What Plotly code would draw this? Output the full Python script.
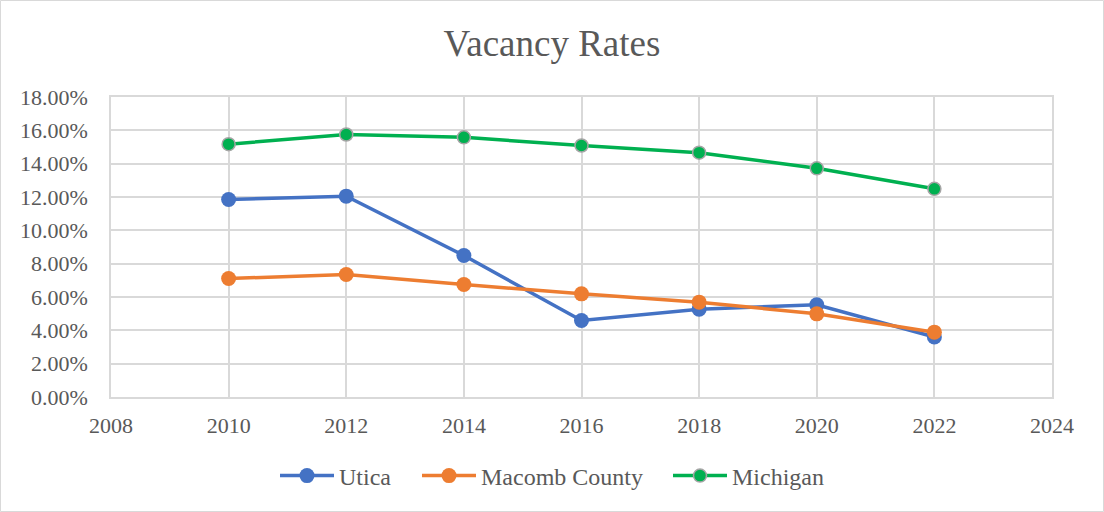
import plotly.graph_objects as go

years = [2010, 2012, 2014, 2016, 2018, 2020, 2022]
utica = [11.85, 12.05, 8.49, 4.59, 5.27, 5.53, 3.60]
macomb = [7.11, 7.35, 6.75, 6.19, 5.69, 4.99, 3.89]
michigan = [15.17, 15.75, 15.58, 15.09, 14.66, 13.72, 12.49]

y_ticks = [0, 2, 4, 6, 8, 10, 12, 14, 16, 18]
y_tick_labels = [f"{v:.2f}%" for v in y_ticks]
x_ticks = [2008, 2010, 2012, 2014, 2016, 2018, 2020, 2022, 2024]

W, H = 1104, 512
L, R, T, B = 111, 52, 97, 115
pw, ph = W - L - R, H - T - B

font_family = "Liberation Serif, Times New Roman, serif"
text_color = "#595959"
grid = "#D9D9D9"

legend_y = (T + ph - 476) / ph
legend_lefts = [275, 417, 668]

fig = go.Figure()
fig.add_trace(go.Scatter(x=years, y=[v / 100 for v in utica], name="Utica", mode="lines+markers",
                         line=dict(color="#4472C4", width=3.5),
                         marker=dict(size=15, color="#4472C4"), legend="legend"))
fig.add_trace(go.Scatter(x=years, y=[v / 100 for v in macomb], name="Macomb County", mode="lines+markers",
                         line=dict(color="#ED7D31", width=3.5),
                         marker=dict(size=15, color="#ED7D31"), legend="legend2"))
fig.add_trace(go.Scatter(x=years, y=[v / 100 for v in michigan], name="Michigan", mode="lines+markers",
                         line=dict(color="#00B050", width=3.5),
                         marker=dict(size=13, color="#00B050", line=dict(color="#A5A5A5", width=1.5)),
                         legend="legend3"))

legend_common = dict(orientation="h", xanchor="left", y=legend_y, yanchor="middle",
                     font=dict(family=font_family, size=24, color=text_color),
                     bgcolor="rgba(0,0,0,0)", borderwidth=0, itemwidth=54)

fig.update_layout(
    width=W, height=H,
    margin=dict(l=L, r=R, t=T, b=B, autoexpand=False),
    paper_bgcolor="white", plot_bgcolor="white",
    font=dict(family=font_family, size=22, color=text_color),
    title=dict(text="Vacancy Rates", x=0.5, xanchor="center", y=1 - 43 / H, yanchor="middle",
               font=dict(family=font_family, size=37, color=text_color)),
    showlegend=True,
    legend=dict(x=(legend_lefts[0] - L) / pw, **legend_common),
    legend2=dict(x=(legend_lefts[1] - L) / pw, **legend_common),
    legend3=dict(x=(legend_lefts[2] - L) / pw, **legend_common),
    xaxis=dict(range=[2008, 2024], tickvals=x_ticks, ticktext=[str(v) for v in x_ticks],
               showgrid=True, gridcolor=grid, gridwidth=1.5, zeroline=False,
               showline=True, linecolor=grid, linewidth=1.5, mirror=True,
               ticks="outside", ticklen=8, tickcolor="rgba(0,0,0,0)"),
    yaxis=dict(range=[0, 0.18], tickvals=[v / 100 for v in y_ticks], ticktext=y_tick_labels,
               showgrid=True, gridcolor=grid, gridwidth=1.5, zeroline=False,
               showline=True, linecolor=grid, linewidth=1.5, mirror=True,
               ticks="outside", ticklen=17, tickcolor="rgba(0,0,0,0)"),
    shapes=[dict(type="rect", xref="paper", yref="paper",
                 x0=-(L - 0.5) / pw, x1=1 + (R - 0.5) / pw,
                 y0=-(B - 0.5) / ph, y1=1 + (T - 0.5) / ph,
                 line=dict(color="#D9D9D9", width=1), layer="below")],
)

fig.write_html("out.html", config={"displayModeBar": False},
               post_script="document.body.style.margin='0';")
